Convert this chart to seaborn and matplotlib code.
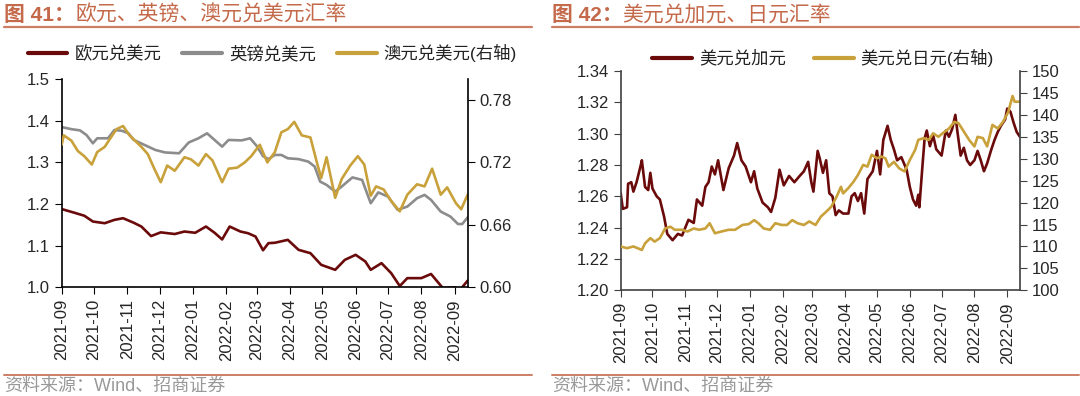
import pandas as pd
import matplotlib
matplotlib.use('Agg')
import matplotlib.pyplot as plt
import matplotlib.dates as mdates
from matplotlib.lines import Line2D
import seaborn as sns

sns.set_style('ticks')
plt.rcParams['font.family'] = ['Liberation Sans', 'Noto Sans CJK SC']
plt.rcParams['axes.unicode_minus'] = False

# ---- data ----
eur_dates = ['2021-09-01', '2021-09-13', '2021-09-22', '2021-09-30', '2021-10-11', '2021-10-20',
             '2021-10-28', '2021-11-07', '2021-11-14', '2021-11-23', '2021-12-02', '2021-12-15',
             '2021-12-24', '2022-01-03', '2022-01-13', '2022-01-21', '2022-01-28', '2022-02-04',
             '2022-02-14', '2022-02-21', '2022-02-28', '2022-03-07', '2022-03-12', '2022-03-18',
             '2022-03-30', '2022-04-09', '2022-04-20', '2022-04-30', '2022-05-13', '2022-05-22',
             '2022-06-01', '2022-06-10', '2022-06-15', '2022-06-25', '2022-07-04', '2022-07-12',
             '2022-07-19', '2022-08-01', '2022-08-10', '2022-08-21', '2022-09-01', '2022-09-06',
             '2022-09-13']
eur_usd = [1.188, 1.179, 1.172, 1.158, 1.154, 1.162, 1.166, 1.155, 1.146, 1.123, 1.132, 1.128,
           1.134, 1.131, 1.146, 1.131, 1.115, 1.146, 1.134, 1.130, 1.122, 1.089, 1.106, 1.107,
           1.114, 1.090, 1.082, 1.054, 1.042, 1.066, 1.078, 1.062, 1.042, 1.058, 1.034, 1.003,
           1.022, 1.022, 1.032, 0.998, 1.000, 0.994, 1.016]

gbp_dates = ['2021-09-01', '2021-09-10', '2021-09-18', '2021-09-24', '2021-09-30', '2021-10-04',
             '2021-10-14', '2021-10-20', '2021-10-27', '2021-11-02', '2021-11-07', '2021-11-17',
             '2021-11-27', '2021-12-06', '2021-12-19', '2021-12-28', '2022-01-06', '2022-01-14',
             '2022-01-21', '2022-01-28', '2022-02-03', '2022-02-15', '2022-02-23', '2022-03-01',
             '2022-03-07', '2022-03-12', '2022-03-18', '2022-03-24', '2022-03-30', '2022-04-09',
             '2022-04-18', '2022-04-24', '2022-04-29', '2022-05-05', '2022-05-13', '2022-05-19',
             '2022-05-29', '2022-06-07', '2022-06-15', '2022-06-22', '2022-07-01', '2022-07-10',
             '2022-07-19', '2022-07-28', '2022-08-04', '2022-08-10', '2022-08-19', '2022-08-28',
             '2022-09-04', '2022-09-08', '2022-09-13']
gbp_usd = [1.385, 1.380, 1.377, 1.366, 1.346, 1.358, 1.358, 1.378, 1.376, 1.370, 1.354, 1.342,
           1.330, 1.324, 1.322, 1.348, 1.358, 1.370, 1.354, 1.338, 1.354, 1.353, 1.358, 1.340,
           1.315, 1.308, 1.318, 1.318, 1.310, 1.308, 1.302, 1.290, 1.254, 1.246, 1.230, 1.242,
           1.264, 1.258, 1.202, 1.228, 1.218, 1.186, 1.194, 1.214, 1.222, 1.210, 1.182, 1.170,
           1.152, 1.152, 1.168]

aud_dates = ['2021-09-01', '2021-09-03', '2021-09-10', '2021-09-16', '2021-09-22', '2021-09-29',
             '2021-10-04', '2021-10-11', '2021-10-18', '2021-10-22', '2021-10-28', '2021-11-03',
             '2021-11-08', '2021-11-14', '2021-11-20', '2021-11-26', '2021-12-02', '2021-12-08',
             '2021-12-15', '2021-12-24', '2021-12-30', '2022-01-06', '2022-01-13', '2022-01-19',
             '2022-01-28', '2022-02-03', '2022-02-11', '2022-02-18', '2022-02-24', '2022-03-04',
             '2022-03-11', '2022-03-18', '2022-03-24', '2022-03-30', '2022-04-05', '2022-04-12',
             '2022-04-20', '2022-04-26', '2022-04-30', '2022-05-05', '2022-05-13', '2022-05-19',
             '2022-05-27', '2022-06-03', '2022-06-09', '2022-06-15', '2022-06-20', '2022-06-27',
             '2022-07-04', '2022-07-12', '2022-07-19', '2022-07-28', '2022-08-04', '2022-08-11',
             '2022-08-19', '2022-08-25', '2022-09-02', '2022-09-07', '2022-09-13']
aud_usd = [0.737, 0.746, 0.741, 0.731, 0.726, 0.718, 0.730, 0.735, 0.746, 0.752, 0.755, 0.746,
           0.741, 0.735, 0.728, 0.714, 0.701, 0.717, 0.712, 0.725, 0.723, 0.717, 0.728, 0.722,
           0.701, 0.714, 0.715, 0.720, 0.726, 0.737, 0.720, 0.730, 0.749, 0.752, 0.759, 0.746,
           0.744, 0.720, 0.705, 0.725, 0.686, 0.704, 0.717, 0.726, 0.718, 0.688, 0.697, 0.694,
           0.683, 0.673, 0.689, 0.699, 0.697, 0.714, 0.689, 0.696, 0.681, 0.675, 0.689]

cad_dates = ['2021-09-01', '2021-09-03', '2021-09-07', '2021-09-08', '2021-09-11', '2021-09-13',
             '2021-09-16', '2021-09-20', '2021-09-21', '2021-09-24', '2021-09-27', '2021-09-29',
             '2021-10-01', '2021-10-05', '2021-10-08', '2021-10-12', '2021-10-15', '2021-10-20',
             '2021-10-25', '2021-10-29', '2021-11-04', '2021-11-09', '2021-11-12', '2021-11-17',
             '2021-11-20', '2021-11-23', '2021-11-26', '2021-11-29', '2021-12-02', '2021-12-07',
             '2021-12-12', '2021-12-17', '2021-12-20', '2021-12-24', '2021-12-28', '2022-01-02',
             '2022-01-05', '2022-01-08', '2022-01-13', '2022-01-18', '2022-01-21', '2022-01-25',
             '2022-01-29', '2022-02-02', '2022-02-07', '2022-02-12', '2022-02-17', '2022-02-21',
             '2022-02-25', '2022-02-28', '2022-03-02', '2022-03-06', '2022-03-08', '2022-03-11',
             '2022-03-14', '2022-03-17', '2022-03-20', '2022-03-23', '2022-03-26', '2022-03-30',
             '2022-04-04', '2022-04-07', '2022-04-10', '2022-04-13', '2022-04-16', '2022-04-19',
             '2022-04-22', '2022-04-27', '2022-05-01', '2022-05-04', '2022-05-07', '2022-05-11',
             '2022-05-14', '2022-05-17', '2022-05-20', '2022-05-24', '2022-05-29', '2022-06-01',
             '2022-06-04', '2022-06-07', '2022-06-09', '2022-06-10', '2022-06-13', '2022-06-15',
             '2022-06-17', '2022-06-20', '2022-06-23', '2022-06-26', '2022-07-01', '2022-07-05',
             '2022-07-08', '2022-07-11', '2022-07-14', '2022-07-16', '2022-07-19', '2022-07-22',
             '2022-07-25', '2022-07-28', '2022-08-01', '2022-08-04', '2022-08-07', '2022-08-10',
             '2022-08-13', '2022-08-17', '2022-08-20', '2022-08-23', '2022-08-26', '2022-08-30',
             '2022-09-01', '2022-09-04', '2022-09-07', '2022-09-10', '2022-09-13']
usd_cad = [1.262, 1.252, 1.253, 1.268, 1.269, 1.263, 1.269, 1.280, 1.283, 1.266, 1.264, 1.275,
           1.265, 1.260, 1.258, 1.247, 1.236, 1.232, 1.236, 1.235, 1.245, 1.243, 1.258, 1.254,
           1.266, 1.269, 1.279, 1.274, 1.283, 1.264, 1.278, 1.286, 1.294, 1.283, 1.279, 1.269,
           1.276, 1.265, 1.256, 1.253, 1.250, 1.259, 1.277, 1.267, 1.273, 1.269, 1.273, 1.276,
           1.282, 1.269, 1.263, 1.289, 1.284, 1.275, 1.283, 1.262, 1.260, 1.248, 1.251, 1.249,
           1.249, 1.260, 1.262, 1.257, 1.262, 1.249, 1.271, 1.276, 1.289, 1.274, 1.296, 1.305,
           1.296, 1.290, 1.283, 1.285, 1.277, 1.266, 1.258, 1.254, 1.261, 1.253, 1.280, 1.297,
           1.302, 1.292, 1.299, 1.290, 1.286, 1.302, 1.298, 1.303, 1.312, 1.301, 1.286, 1.291,
           1.283, 1.280, 1.283, 1.289, 1.283, 1.276, 1.281, 1.290, 1.296, 1.301, 1.305, 1.309,
           1.316, 1.314, 1.307, 1.301, 1.298]

jpy_dates = ['2021-09-01', '2021-09-07', '2021-09-13', '2021-09-21', '2021-09-24', '2021-09-29',
             '2021-10-03', '2021-10-08', '2021-10-13', '2021-10-18', '2021-10-22', '2021-10-29',
             '2021-11-03', '2021-11-09', '2021-11-14', '2021-11-20', '2021-11-24', '2021-11-29',
             '2021-12-05', '2021-12-12', '2021-12-18', '2021-12-25', '2021-12-31', '2022-01-05',
             '2022-01-09', '2022-01-14', '2022-01-20', '2022-01-25', '2022-01-31', '2022-02-05',
             '2022-02-10', '2022-02-15', '2022-02-21', '2022-02-26', '2022-03-04', '2022-03-09',
             '2022-03-14', '2022-03-19', '2022-03-24', '2022-03-28', '2022-03-30', '2022-04-04',
             '2022-04-09', '2022-04-13', '2022-04-18', '2022-04-22', '2022-04-26', '2022-05-01',
             '2022-05-05', '2022-05-09', '2022-05-12', '2022-05-17', '2022-05-22', '2022-05-27',
             '2022-06-01', '2022-06-06', '2022-06-09', '2022-06-14', '2022-06-19', '2022-06-23',
             '2022-06-28', '2022-07-02', '2022-07-08', '2022-07-13', '2022-07-17', '2022-07-22',
             '2022-07-27', '2022-08-01', '2022-08-04', '2022-08-09', '2022-08-13', '2022-08-18',
             '2022-08-23', '2022-08-28', '2022-09-02', '2022-09-06', '2022-09-08', '2022-09-13']
usd_jpy = [110.0, 109.6, 110.0, 109.2, 110.7, 111.9, 111.1, 111.9, 114.1, 114.5, 113.8, 113.8,
           113.4, 114.1, 113.8, 114.1, 115.3, 113.0, 113.4, 113.8, 113.8, 114.9, 115.1, 116.0,
           115.3, 114.1, 113.8, 115.3, 114.9, 114.9, 116.0, 115.3, 114.9, 115.7, 114.9, 116.8,
           117.9, 119.1, 121.4, 123.6, 122.1, 123.3, 124.8, 126.3, 128.6, 128.2, 130.9, 130.1,
           130.5, 130.1, 128.2, 129.3, 127.8, 127.1, 129.7, 132.0, 134.3, 134.7, 134.3, 135.8,
           135.0, 135.8, 136.9, 138.4, 138.1, 136.2, 134.3, 132.8, 135.0, 134.7, 132.8, 137.7,
           136.9, 138.4, 140.7, 144.3, 143.0, 143.0]

MAROON = '#6B0A0A'
GREY = '#8C8C8C'
GOLD = '#C9A13B'
TITLE_C = '#C4694A'
x_start, x_end = pd.Timestamp('2021-09-01'), pd.Timestamp('2022-09-13')

fig = plt.figure(figsize=(10.8, 3.96), dpi=100)


def style_axes(ax, ax2, spine_c):
    ax.set_xlim(x_start, x_end)
    ax.xaxis.set_major_locator(mdates.MonthLocator())
    ax.xaxis.set_major_formatter(mdates.DateFormatter('%Y-%m'))
    ax.tick_params(axis='x', labelrotation=90, labelsize=12, length=5, color=spine_c)
    ax.tick_params(axis='y', labelsize=12, length=5, color=spine_c)
    ax2.tick_params(axis='y', labelsize=12, length=5, color=spine_c)
    ax.set_xlabel('')
    ax.set_ylabel('')
    ax2.set_ylabel('')
    ax.spines['top'].set_visible(False)
    ax.spines['right'].set_visible(False)
    ax2.spines['top'].set_visible(False)
    ax2.spines['left'].set_visible(False)
    ax2.spines['bottom'].set_visible(False)
    for s in ['left', 'bottom']:
        ax.spines[s].set_color(spine_c)
        ax.spines[s].set_linewidth(1.2)
    ax2.spines['right'].set_color(spine_c)
    ax2.spines['right'].set_linewidth(1.2)
    for a in (ax, ax2):
        if a.get_legend() is not None:
            a.get_legend().remove()


# ---- left panel ----
ax1 = fig.add_axes([0.0571, 0.2745, 0.3759, 0.5255])
ax1b = ax1.twinx()
sns.lineplot(x=pd.to_datetime(eur_dates), y=eur_usd, ax=ax1, color=MAROON, lw=1.9, label='欧元兑美元')
sns.lineplot(x=pd.to_datetime(gbp_dates), y=gbp_usd, ax=ax1, color=GREY, lw=1.9, label='英镑兑美元')
sns.lineplot(x=pd.to_datetime(aud_dates), y=aud_usd, ax=ax1b, color=GOLD, lw=1.9, label='澳元兑美元(右轴)')
ax1.set_ylim(1.0, 1.5)
ax1.set_yticks([1.0, 1.1, 1.2, 1.3, 1.4, 1.5])
ax1.set_yticklabels(['1.0', '1.1', '1.2', '1.3', '1.4', '1.5'])
ax1b.set_ylim(0.60, 0.80)
ax1b.set_yticks([0.60, 0.66, 0.72, 0.78])
ax1b.set_yticklabels(['0.60', '0.66', '0.72', '0.78'])
style_axes(ax1, ax1b, '#000000')
h1 = [Line2D([], [], color=c, lw=3) for c in (MAROON, GREY, GOLD)]
fig.legend(h1, ['欧元兑美元', '英镑兑美元', '澳元兑美元(右轴)'], loc='center',
           bbox_to_anchor=(0.252, 0.866), ncol=3, frameon=False, fontsize=12.5,
           handlelength=2.3, handletextpad=0.4, columnspacing=1.2, labelcolor='#222222')

# ---- right panel ----
ax2 = fig.add_axes([0.5747, 0.2669, 0.3697, 0.5538])
ax2b = ax2.twinx()
sns.lineplot(x=pd.to_datetime(cad_dates), y=usd_cad, ax=ax2, color=MAROON, lw=1.9, label='美元兑加元')
sns.lineplot(x=pd.to_datetime(jpy_dates), y=usd_jpy, ax=ax2b, color=GOLD, lw=1.9, label='美元兑日元(右轴)')
ax2.set_ylim(1.20, 1.34)
ax2.set_yticks([1.20, 1.22, 1.24, 1.26, 1.28, 1.30, 1.32, 1.34])
ax2.set_yticklabels([f'{v:.2f}' for v in [1.20, 1.22, 1.24, 1.26, 1.28, 1.30, 1.32, 1.34]])
ax2b.set_ylim(100, 150)
ax2b.set_yticks(list(range(100, 151, 5)))
style_axes(ax2, ax2b, '#404040')
h2 = [Line2D([], [], color=c, lw=3) for c in (MAROON, GOLD)]
fig.legend(h2, ['美元兑加元', '美元兑日元(右轴)'], loc='center',
           bbox_to_anchor=(0.762, 0.854), ncol=2, frameon=False, fontsize=12.5,
           handlelength=2.3, handletextpad=0.4, columnspacing=1.6, labelcolor='#222222')

# ---- titles, rules, source ----
for x0, x1, num, rest in [(0.004, 0.493, '图 41：', '欧元、英镑、澳元兑美元汇率'),
                          (0.511, 0.999, '图 42：', '美元兑加元、日元汇率')]:
    t = fig.text(x0, 0.962, num, fontsize=15, fontweight='bold', color=TITLE_C,
                 va='center', ha='left')
    plt.annotate(rest, xy=(1, 0.5), xycoords=t, va='center', ha='left',
                 fontsize=15, color=TITLE_C, annotation_clip=False)
    fig.add_artist(Line2D([x0, x1], [0.931, 0.931], color=TITLE_C, lw=1.6, alpha=0.85))
    fig.add_artist(Line2D([x0, x1], [0.054, 0.054], color=TITLE_C, lw=1.4, alpha=0.85))
    fig.text(x0, 0.024, '资料来源：Wind、招商证券', fontsize=13, color='#999999',
             va='center', ha='left')

fig.savefig('out.png', dpi=100)
